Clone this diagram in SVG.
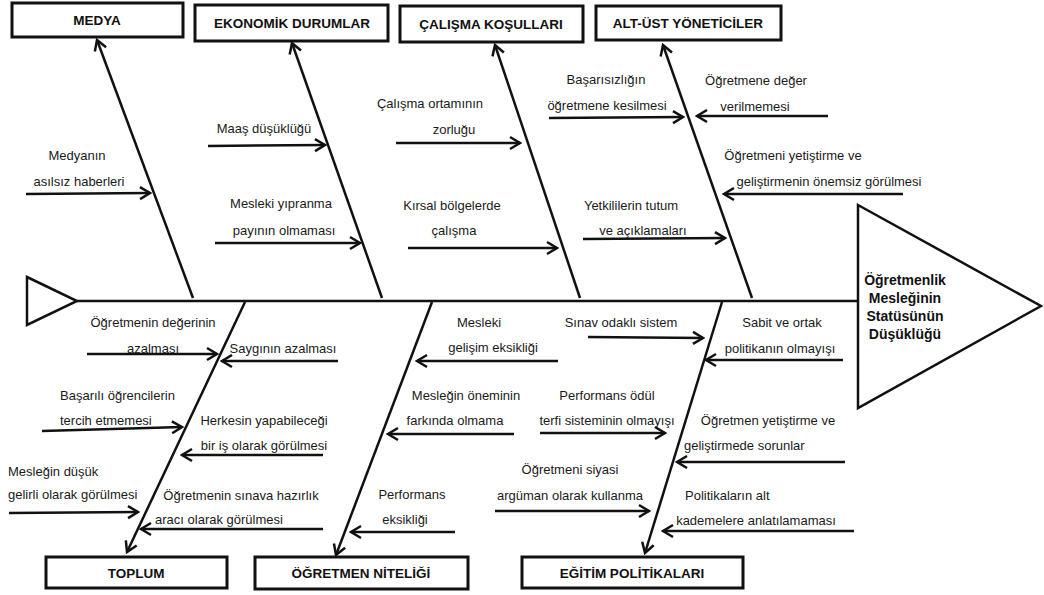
<svg xmlns="http://www.w3.org/2000/svg" width="1044" height="595" viewBox="0 0 1044 595">
<defs>
<style>
.box{fill:#fff;stroke:#111;stroke-width:3}
.hd{font-family:"Liberation Sans",Arial,sans-serif;font-size:13.5px;font-weight:bold;fill:#111;text-anchor:middle}
.t{font-family:"Liberation Sans",Arial,sans-serif;font-size:13px;fill:#1a1a1a}
.m{text-anchor:middle}
.ln{stroke:#111;stroke-width:2.5;fill:none}
.ar{stroke:#111;stroke-width:2.5;fill:none;marker-end:url(#ah)}
.head{font-family:"Liberation Sans",Arial,sans-serif;font-size:14px;font-weight:bold;fill:#111;text-anchor:middle}
</style>
<marker id="ah" viewBox="-12 -8 14 16" refX="0" refY="0" markerWidth="14" markerHeight="16" markerUnits="userSpaceOnUse" orient="auto">
<path d="M-10,-6 L0,0 L-10,6" fill="none" stroke="#111" stroke-width="2.5"/>
</marker>
</defs>
<rect width="1044" height="595" fill="#fff"/>

<g id="connectors">
<line class="ln" x1="77" y1="301" x2="858" y2="301" stroke-width="3.5"/>
<line class="ar" x1="193" y1="298" x2="97" y2="40"/>
<line class="ar" x1="382" y1="298" x2="292" y2="43"/>
<line class="ar" x1="580" y1="298" x2="495" y2="45"/>
<line class="ar" x1="752" y1="298" x2="663" y2="45"/>
<line class="ar" x1="245" y1="302" x2="127" y2="552"/>
<line class="ar" x1="432" y1="302" x2="336" y2="555"/>
<line class="ar" x1="722" y1="302" x2="645" y2="553"/>
<line class="ar" x1="26" y1="194" x2="150" y2="193"/>
<line class="ar" x1="208" y1="146" x2="325" y2="145"/>
<line class="ar" x1="215" y1="243" x2="360" y2="243"/>
<line class="ar" x1="396" y1="143" x2="520" y2="143"/>
<line class="ar" x1="408" y1="248" x2="557" y2="248"/>
<line class="ar" x1="549" y1="118" x2="683" y2="117"/>
<line class="ar" x1="583" y1="239" x2="725" y2="238"/>
<line class="ar" x1="828" y1="116" x2="697" y2="116"/>
<line class="ar" x1="903" y1="194" x2="724" y2="194"/>
<line class="ar" x1="87" y1="354" x2="217" y2="354"/>
<line class="ar" x1="338" y1="361" x2="222" y2="361"/>
<line class="ar" x1="42" y1="431" x2="182" y2="427"/>
<line class="ar" x1="323" y1="455" x2="182" y2="455"/>
<line class="ar" x1="9" y1="513" x2="138" y2="512"/>
<line class="ar" x1="323" y1="529" x2="141" y2="529"/>
<line class="ar" x1="558" y1="361" x2="417" y2="361"/>
<line class="ar" x1="514" y1="434" x2="388" y2="434"/>
<line class="ar" x1="455" y1="532" x2="351" y2="532"/>
<line class="ar" x1="588" y1="337" x2="703" y2="338"/>
<line class="ar" x1="540" y1="433" x2="665" y2="433"/>
<line class="ar" x1="495" y1="511" x2="649" y2="511"/>
<line class="ar" x1="843" y1="360" x2="706" y2="360"/>
<line class="ar" x1="845" y1="462" x2="677" y2="462"/>
<line class="ar" x1="854" y1="531" x2="663" y2="531"/>
</g>

<g id="tail"><polygon points="27,277 77,301 27,325" fill="#fff" stroke="#111" stroke-width="2.5"/></g>

<g id="head">
<polygon points="858,205 1041,306 858,408" fill="#fff" stroke="#111" stroke-width="2.5"/>
<text class="head" x="905" y="285">Öğretmenlik</text>
<text class="head" x="905" y="303">Mesleğinin</text>
<text class="head" x="905" y="321">Statüsünün</text>
<text class="head" x="905" y="339">Düşüklüğü</text>
</g>

<g id="medya"><rect class="box" x="12" y="3" width="171" height="34"/><text class="hd" x="97" y="25">MEDYA</text></g>
<g id="ekonomik"><rect class="box" x="195" y="5" width="193" height="36"/><text class="hd" x="292" y="28">EKONOMİK DURUMLAR</text></g>
<g id="calisma"><rect class="box" x="400" y="6" width="183" height="36"/><text class="hd" x="491" y="29">ÇALIŞMA KOŞULLARI</text></g>
<g id="yoneticiler"><rect class="box" x="596" y="6" width="185" height="34"/><text class="hd" x="688" y="28">ALT-ÜST YÖNETİCİLER</text></g>
<g id="toplum"><rect class="box" x="46" y="557" width="181" height="31"/><text class="hd" x="136" y="578">TOPLUM</text></g>
<g id="nitelik"><rect class="box" x="255" y="557" width="213" height="32"/><text class="hd" x="361" y="578">ÖĞRETMEN NİTELİĞİ</text></g>
<g id="politikalar"><rect class="box" x="522" y="557" width="221" height="31"/><text class="hd" x="632" y="578">EĞİTİM POLİTİKALARI</text></g>

<g id="causes">
<g id="c1"><text class="t m" x="77" y="160">Medyanın</text><text class="t m" x="79" y="186">asılsız haberleri</text></g>
<g id="c2"><text class="t m" x="264" y="133">Maaş düşüklüğü</text></g>
<g id="c3"><text class="t m" x="281" y="208">Mesleki yıpranma</text><text class="t m" x="284" y="235">payının olmaması</text></g>
<g id="c4"><text class="t m" x="430" y="108">Çalışma ortamının</text><text class="t m" x="454" y="134">zorluğu</text></g>
<g id="c5"><text class="t m" x="452" y="210">Kırsal bölgelerde</text><text class="t m" x="454" y="235">çalışma</text></g>
<g id="c6"><text class="t m" x="606" y="84">Başarısızlığın</text><text class="t m" x="607" y="110">öğretmene kesilmesi</text></g>
<g id="c7"><text class="t m" x="631" y="210">Yetkililerin tutum</text><text class="t m" x="643" y="235">ve açıklamaları</text></g>
<g id="c8"><text class="t m" x="756" y="85">Öğretmene değer</text><text class="t m" x="755" y="111">verilmemesi</text></g>
<g id="c9"><text class="t m" x="793" y="160">Öğretmeni yetiştirme ve</text><text class="t m" x="829" y="186">geliştirmenin önemsiz görülmesi</text></g>
<g id="c10"><text class="t m" x="153" y="327">Öğretmenin değerinin</text><text class="t m" x="153" y="353">azalması</text></g>
<g id="c11"><text class="t m" x="283" y="353">Saygının azalması</text></g>
<g id="c12"><text class="t" x="60" y="400">Başarılı öğrencilerin</text><text class="t" x="60" y="425">tercih etmemesi</text></g>
<g id="c13"><text class="t m" x="264" y="425">Herkesin yapabileceği</text><text class="t m" x="264" y="450">bir iş olarak görülmesi</text></g>
<g id="c14"><text class="t" x="8" y="476">Mesleğin düşük</text><text class="t" x="8" y="499">gelirli olarak görülmesi</text></g>
<g id="c15"><text class="t m" x="241" y="500">Öğretmenin sınava hazırlık</text><text class="t m" x="219" y="524">aracı olarak görülmesi</text></g>
<g id="c16"><text class="t m" x="479" y="327">Mesleki</text><text class="t m" x="493" y="352">gelişim eksikliği</text></g>
<g id="c17"><text class="t m" x="466" y="400">Mesleğin öneminin</text><text class="t m" x="455" y="425">farkında olmama</text></g>
<g id="c18"><text class="t m" x="412" y="499">Performans</text><text class="t m" x="405" y="524">eksikliği</text></g>
<g id="c19"><text class="t m" x="621" y="327">Sınav odaklı sistem</text></g>
<g id="c20"><text class="t m" x="607" y="400">Performans ödül</text><text class="t m" x="607" y="425">terfi sisteminin olmayışı</text></g>
<g id="c21"><text class="t m" x="570" y="474">Öğretmeni siyasi</text><text class="t m" x="570" y="500">argüman olarak kullanma</text></g>
<g id="c22"><text class="t m" x="782" y="327">Sabit ve ortak</text><text class="t m" x="780" y="353">politikanın olmayışı</text></g>
<g id="c23"><text class="t m" x="768" y="425">Öğretmen yetiştirme ve</text><text class="t" x="684" y="450">geliştirmede sorunlar</text></g>
<g id="c24"><text class="t" x="685" y="500">Politikaların alt</text><text class="t m" x="756" y="525">kademelere anlatılamaması</text></g>
</g>
</svg>
